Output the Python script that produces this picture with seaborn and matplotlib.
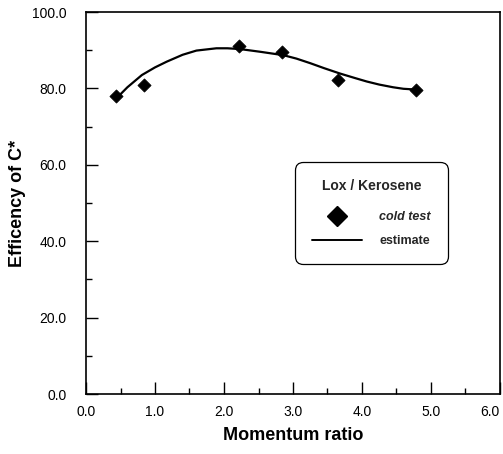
import matplotlib
matplotlib.use("Agg")
import matplotlib.pyplot as plt
import seaborn as sns
import pandas as pd
from matplotlib.ticker import MultipleLocator
from matplotlib.lines import Line2D

# measured points (cold test)
test_x = [0.43, 0.84, 2.22, 2.84, 3.65, 4.78]
test_y = [78.1, 80.8, 91.2, 89.6, 82.3, 79.7]

# estimate curve
est_x = [0.43, 0.6, 0.81, 1.0, 1.17, 1.4, 1.6, 1.89, 2.05, 2.23, 2.52, 2.86, 3.05, 3.25, 3.45, 3.68, 3.9, 4.07, 4.25, 4.45, 4.6, 4.78]
est_y = [77.2, 80.3, 83.5, 85.5, 87.0, 88.8, 89.9, 90.5, 90.5, 90.3, 89.6, 88.7, 87.8, 86.6, 85.3, 83.9, 82.7, 81.8, 81.0, 80.3, 79.9, 79.7]

x_ticks = [0, 1, 2, 3, 4, 5, 6]
x_ticklabels = ["0.0", "1.0", "2.0", "3.0", "4.0", "5.0", "6.0"]
y_ticks = [0, 20, 40, 60, 80, 100]
y_ticklabels = ["0.0", "20.0", "40.0", "60.0", "80.0", "100.0"]

legend_title = "Lox / Kerosene"
legend_labels = ["cold test", "estimate"]

sns.set_theme(style="white")
plt.rcParams['font.family'] = ['Liberation Sans', 'DejaVu Sans']

fig = plt.figure(figsize=(5.03, 4.54), dpi=100)
ax = fig.add_axes([86/503, 60/454, 414/503, 382/454])

df_t = pd.DataFrame({"x": test_x, "y": test_y})
df_e = pd.DataFrame({"x": est_x, "y": est_y})
sns.lineplot(data=df_e, x="x", y="y", ax=ax, color="black", linewidth=1.6, sort=True)
sns.scatterplot(data=df_t, x="x", y="y", ax=ax, marker="D", s=45, color="black", edgecolor="black", zorder=5)

ax.set_xlim(0, 6)
ax.set_ylim(0, 100)
ax.set_xticks(x_ticks)
ax.set_xticklabels(x_ticklabels, fontsize=10, color='black')
ax.set_yticks(y_ticks)
ax.set_yticklabels(y_ticklabels, fontsize=10, color='black')
ax.xaxis.set_minor_locator(MultipleLocator(0.5))
ax.yaxis.set_minor_locator(MultipleLocator(10))
ax.tick_params(which='major', direction='in', length=8.5, width=1, color='black',
               bottom=True, left=True, top=False, right=False)
ax.tick_params(which='minor', direction='in', length=4.5, width=1, color='black',
               bottom=True, left=True, top=False, right=False)
ax.tick_params(axis='x', which='major', pad=8)
ax.tick_params(axis='y', which='major', pad=14)
for lab in ax.get_xticklabels():
    if lab.get_text() == "6.0":
        lab.set_horizontalalignment('right')
for s in ax.spines.values():
    s.set_color('black')
    s.set_linewidth(1.2)

ax.set_xlabel("Momentum ratio", fontsize=13, fontweight='bold', color='black', labelpad=6)
ax.set_ylabel("Efficency of C*", fontsize=13, fontweight='bold', color='black', labelpad=4)

handles = [Line2D([], [], marker='D', linestyle='none', color='black', markersize=10),
           Line2D([], [], color='black', linewidth=1.4)]
leg = ax.legend(handles, legend_labels, title=legend_title,
                loc='upper left', bbox_to_anchor=(0.505, 0.607), frameon=True,
                fancybox=True, edgecolor='black', framealpha=1, handlelength=4.0,
                borderpad=1.35, labelspacing=0.95, handletextpad=1.4, fontsize=9,
                borderaxespad=0)
frame = leg.get_frame()
frame.set_linewidth(0.9)
frame.set_boxstyle("round,pad=0,rounding_size=0.6")
leg.get_title().set_fontweight('bold')
leg.get_title().set_fontsize(10)
leg._legend_box.sep = 13
t0, t1 = leg.get_texts()
t0.set_fontweight('bold'); t0.set_fontstyle('italic')
t1.set_fontweight('bold')

fig.savefig("out.png", dpi=100)
